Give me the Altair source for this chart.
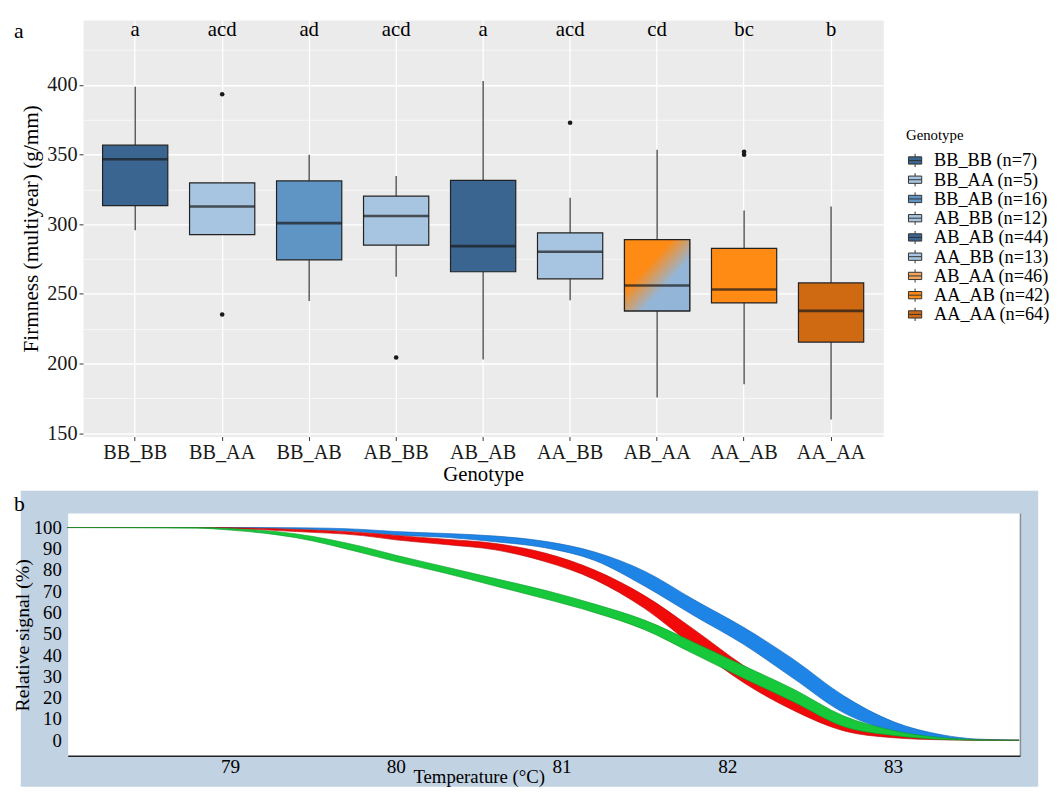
import altair as alt
import pandas as pd

# ---------------- panel a : boxplots ----------------
genotypes = ["BB_BB", "BB_AA", "BB_AB", "AB_BB", "AB_AB", "AA_BB", "AB_AA", "AA_AB", "AA_AA"]
n_counts = [7, 5, 16, 12, 44, 13, 46, 42, 64]
q1 = [313.4, 292.6, 274.4, 285.0, 265.9, 260.8, 237.8, 243.5, 215.4]
medians = [346.7, 312.7, 300.8, 306.0, 284.3, 280.3, 256.0, 253.2, 237.8]
q3 = [356.8, 329.7, 331.1, 320.2, 331.5, 293.8, 289.0, 282.7, 257.9]
whisker_low = [295.7, 292.6, 244.9, 262.4, 202.9, 245.4, 175.7, 185.2, 159.9]
whisker_high = [398.8, 329.7, 349.9, 334.6, 402.8, 319.1, 353.5, 309.8, 312.7]
letters = ["a", "acd", "ad", "acd", "a", "acd", "cd", "bc", "b"]
outlier_geno = ["BB_AA", "BB_AA", "AB_BB", "AA_BB", "AA_AB", "AA_AB"]
outlier_val = [393.4, 235.2, 204.3, 372.9, 350.0, 352.0]
box_colors = ["#3B6591", "#A7C4E0", "#5E95C5", "#A7C4E0", "#3B6591",
              "#A7C4E0", "#F2A35C", "#FF8A14", "#CF6A12"]
legend_labels = [f"{g} (n={n})" for g, n in zip(genotypes, n_counts)]

# ---------------- panel b : melt curves ----------------
temps = [78.02, 78.8, 79.0, 79.4, 79.8, 80.0, 80.3, 80.6, 80.9, 81.2,
         81.5, 81.8, 82.1, 82.4, 82.7, 83.0, 83.3, 83.5, 83.76]
blue_hi = [100, 100, 100, 99.9, 99.1, 98.1, 97.2, 96.0, 93.5, 88.5,
           79.5, 66.0, 53.0, 38.0, 21.0, 8.8, 2.5, 0.6, 0]
blue_lo = [100, 100, 99.9, 99.3, 97.9, 96.5, 95.4, 93.3, 90.5, 84.5,
           72.5, 58.5, 45.0, 29.0, 13.0, 4.2, 1.0, 0.2, 0]
red_hi = [100, 100, 99.9, 99.1, 97.6, 96.3, 94.5, 92.5, 88.0, 80.0,
          68.0, 52.0, 35.0, 21.0, 9.0, 3.0, 0.8, 0.1, 0]
red_lo = [100, 100, 99.6, 98.1, 96.2, 94.2, 92.0, 89.5, 84.0, 75.5,
          62.0, 44.0, 27.0, 14.0, 4.5, 1.2, 0.2, 0, 0]
green_hi = [100, 100, 99.5, 97.0, 91.0, 87.0, 81.5, 76.0, 70.5, 64.0,
            56.5, 46.0, 35.0, 24.0, 11.5, 4.6, 1.2, 0.3, 0]
green_lo = [100, 99.7, 98.8, 95.2, 88.0, 84.0, 78.5, 72.5, 66.5, 60.0,
            52.0, 40.5, 29.0, 18.0, 6.5, 2.3, 0.4, 0, 0]
group_names = ["blue", "red", "green"]
group_colors = ["#1E84E6", "#F00A0A", "#16C83A"]
edge_colors = ["#1566B8", "#B80808", "#0F9A2C"]

FONT = "Liberation Serif"

# ---------- data frames ----------
box_df = pd.DataFrame({
    "geno": genotypes, "label": legend_labels, "q1": q1, "median": medians,
    "q3": q3, "wlo": whisker_low, "whi": whisker_high, "letter": letters,
})
out_df = pd.DataFrame({"geno": outlier_geno, "value": outlier_val})
one = pd.DataFrame({"k": [0]})

rows = []
for name, hi, lo in zip(group_names, [blue_hi, red_hi, green_hi], [blue_lo, red_lo, green_lo]):
    for t, h, l in zip(temps, hi, lo):
        rows.append({"T": t, "group": name, "hi": h, "lo": l})
curve_df = pd.DataFrame(rows)

# ---------- top chart ----------
TOP_W, TOP_H = 811, 422
xscale = alt.Scale(domain=genotypes, paddingInner=0.25, paddingOuter=0.225)
yscale = alt.Scale(domain=[147.6, 446.6], nice=False, zero=False)
major = "datum.value % 50 === 0"
xaxis = alt.Axis(title="Genotype", labelAngle=0, labelFontSize=20.5, titleFontSize=21,
                 titleFontWeight="normal", titlePadding=1, tickSize=4, tickColor="#333333",
                 labelPadding=2, domain=False, grid=True, gridColor="white", gridWidth=1.3,
                 bandPosition=0.5, labelColor="#1a1a1a", titleColor="black")
yaxis = alt.Axis(title="Firmness (multiyear) (g/mm)", values=list(range(150, 426, 25)),
                 labelExpr=f"{major} ? datum.label : ''", gridColor="white",
                 gridWidth={"condition": {"test": major, "value": 1.4}, "value": 0.6},
                 tickOpacity={"condition": {"test": major, "value": 1}, "value": 0},
                 tickSize=4, tickColor="#333333", domain=False, labelFontSize=20.5,
                 titleFontSize=21.5, titleFontWeight="normal", labelPadding=2,
                 titlePadding=4, labelColor="#1a1a1a", titleColor="black")
X = alt.X("geno:N", scale=xscale, axis=xaxis, sort=genotypes)

base = alt.Chart(box_df)
whisk_up = base.mark_rule(color="#333333", strokeWidth=1.2).encode(
    x=X, y=alt.Y("q3:Q", scale=yscale, axis=yaxis), y2="whi:Q")
whisk_dn = base.mark_rule(color="#333333", strokeWidth=1.2).encode(
    x=X, y=alt.Y("wlo:Q", scale=yscale, axis=yaxis), y2="q1:Q")

legend_symbol = "M-1,-0.55H1V0.55H-1Z M-1,0H1 M0,-0.55V-1 M0,0.55V1"
boxes = base.mark_bar(stroke="#222222", strokeWidth=1.2, opacity=1).encode(
    x=X, y=alt.Y("q1:Q", scale=yscale, axis=yaxis), y2="q3:Q",
    color=alt.Color("label:N", scale=alt.Scale(domain=legend_labels, range=box_colors),
                    sort=legend_labels,
                    legend=alt.Legend(title="Genotype", orient="none", legendX=834, legendY=110,
                                      titleFontSize=15, titleFontWeight="normal", titleColor="black",
                                      labelFontSize=18.5, labelColor="black", symbolType=legend_symbol,
                                      symbolSize=180, symbolStrokeColor="#333333",
                                      symbolStrokeWidth=1, rowPadding=0.5, titlePadding=8,
                                      labelOffset=10, symbolOpacity=1)))
gradient = alt.LinearGradient(
    gradient="linear",
    stops=[alt.GradientStop(color="#FF8A14", offset=0), alt.GradientStop(color="#FF8A14", offset=0.36),
           alt.GradientStop(color="#93B6D8", offset=0.64), alt.GradientStop(color="#93B6D8", offset=1)],
    x1=0, y1=0, x2=1, y2=1)
grad_box = base.transform_filter(alt.datum.geno == "AB_AA").mark_bar(
    fill=gradient, stroke="#222222", strokeWidth=1.2).encode(
    x=X, y=alt.Y("q1:Q", scale=yscale, axis=yaxis), y2="q3:Q")
med = base.mark_tick(color="#1a1a1a", size=66, thickness=2.6).encode(
    x=X, y=alt.Y("median:Q", scale=yscale, axis=yaxis))
outl = alt.Chart(out_df).mark_circle(color="#1a1a1a", size=22, opacity=1).encode(
    x=X, y=alt.Y("value:Q", scale=yscale, axis=yaxis))
lett = base.mark_text(fontSize=21, color="black", baseline="middle").encode(
    x=X, y=alt.value(10), text="letter:N")
lab_a = alt.Chart(one).mark_text(text="a", fontSize=22, align="left", baseline="middle",
                                 color="black").encode(x=alt.value(-70), y=alt.value(11))

top = alt.layer(whisk_up, whisk_dn, boxes, grad_box, med, outl, lett, lab_a).properties(
    width=TOP_W, height=TOP_H, view=alt.ViewBackground(fill="#EBEBEB", stroke="transparent"))

# ---------- bottom chart ----------
BOT_W, BOT_H = 950, 246
tscale = alt.Scale(domain=[78.113, 83.768], nice=False, zero=False)
sscale = alt.Scale(domain=[-7.5, 106.6], nice=False, zero=False)
taxis = alt.Axis(values=[79, 80, 81, 82, 83], title="Temperature (°C)", domain=False, ticks=False,
                 grid=False, labelFontSize=19.5, labelPadding=1, titleFontSize=19,
                 titleFontWeight="normal", titleX=401, titleY=21, titleBaseline="middle",
                 titleAlign="center", zindex=1, labelColor="black", titleColor="black")
saxis = alt.Axis(values=list(range(0, 101, 10)), title="Relative signal (%)", offset=15,
                 domain=False, ticks=False, grid=False, labelPadding=7, titlePadding=1,
                 labelFontSize=19, titleFontSize=20, titleFontWeight="normal", zindex=1,
                 labelColor="black", titleColor="black")
gscale = alt.Scale(domain=group_names, range=group_colors)
escale = alt.Scale(domain=group_names, range=edge_colors)

bg_blue = alt.Chart(one).mark_rect(color="#C1D2E3").encode(
    x=alt.value(-63), x2=alt.value(968), y=alt.value(-23), y2=alt.value(277))
bg_white = alt.Chart(one).mark_rect(color="white").encode(
    x=alt.value(-15), x2=alt.value(BOT_W), y=alt.value(0), y2=alt.value(BOT_H))
right_border = alt.Chart(one).mark_rule(color="#8A8F96", strokeWidth=1.5).encode(
    x=alt.value(BOT_W), y=alt.value(0), y2=alt.value(BOT_H))
x_line = alt.Chart(one).mark_rule(color="#222222", strokeWidth=1.5).encode(
    x=alt.value(-15), x2=alt.value(BOT_W), y=alt.value(BOT_H))
lab_b = alt.Chart(one).mark_text(text="b", fontSize=22, align="left", baseline="middle",
                                 color="black").encode(x=alt.value(-70), y=alt.value(-10))

cbase = alt.Chart(curve_df)
bands = []
for g in group_names:
    sub = cbase.transform_filter(alt.datum.group == g)
    area = sub.mark_area(interpolate="monotone", clip=False, opacity=1).encode(
        x=alt.X("T:Q", scale=tscale, axis=taxis),
        y=alt.Y("hi:Q", scale=sscale, axis=saxis), y2="lo:Q",
        color=alt.Color("group:N", scale=gscale, legend=None))
    e_hi = sub.mark_line(interpolate="monotone", strokeWidth=0.8, opacity=0.8).encode(
        x=alt.X("T:Q", scale=tscale, axis=taxis),
        y=alt.Y("hi:Q", scale=sscale, axis=saxis),
        stroke=alt.Stroke("group:N", scale=escale, legend=None))
    e_lo = sub.mark_line(interpolate="monotone", strokeWidth=0.8, opacity=0.8).encode(
        x=alt.X("T:Q", scale=tscale, axis=taxis),
        y=alt.Y("lo:Q", scale=sscale, axis=saxis),
        stroke=alt.Stroke("group:N", scale=escale, legend=None))
    bands += [area, e_hi, e_lo]

bottom = alt.layer(bg_blue, bg_white, right_border, *bands, x_line, lab_b).properties(
    width=BOT_W, height=BOT_H, view=alt.ViewBackground(fill="transparent", stroke="transparent"))

chart = alt.vconcat(top, bottom, spacing=5).resolve_scale(
    color="independent", stroke="independent"
).properties(
    padding={"left": 4, "top": 5, "right": 0, "bottom": 0}
).configure(font=FONT).configure_view(stroke="transparent")

chart.save("out.html", embed_options={"renderer": "svg", "actions": False})
